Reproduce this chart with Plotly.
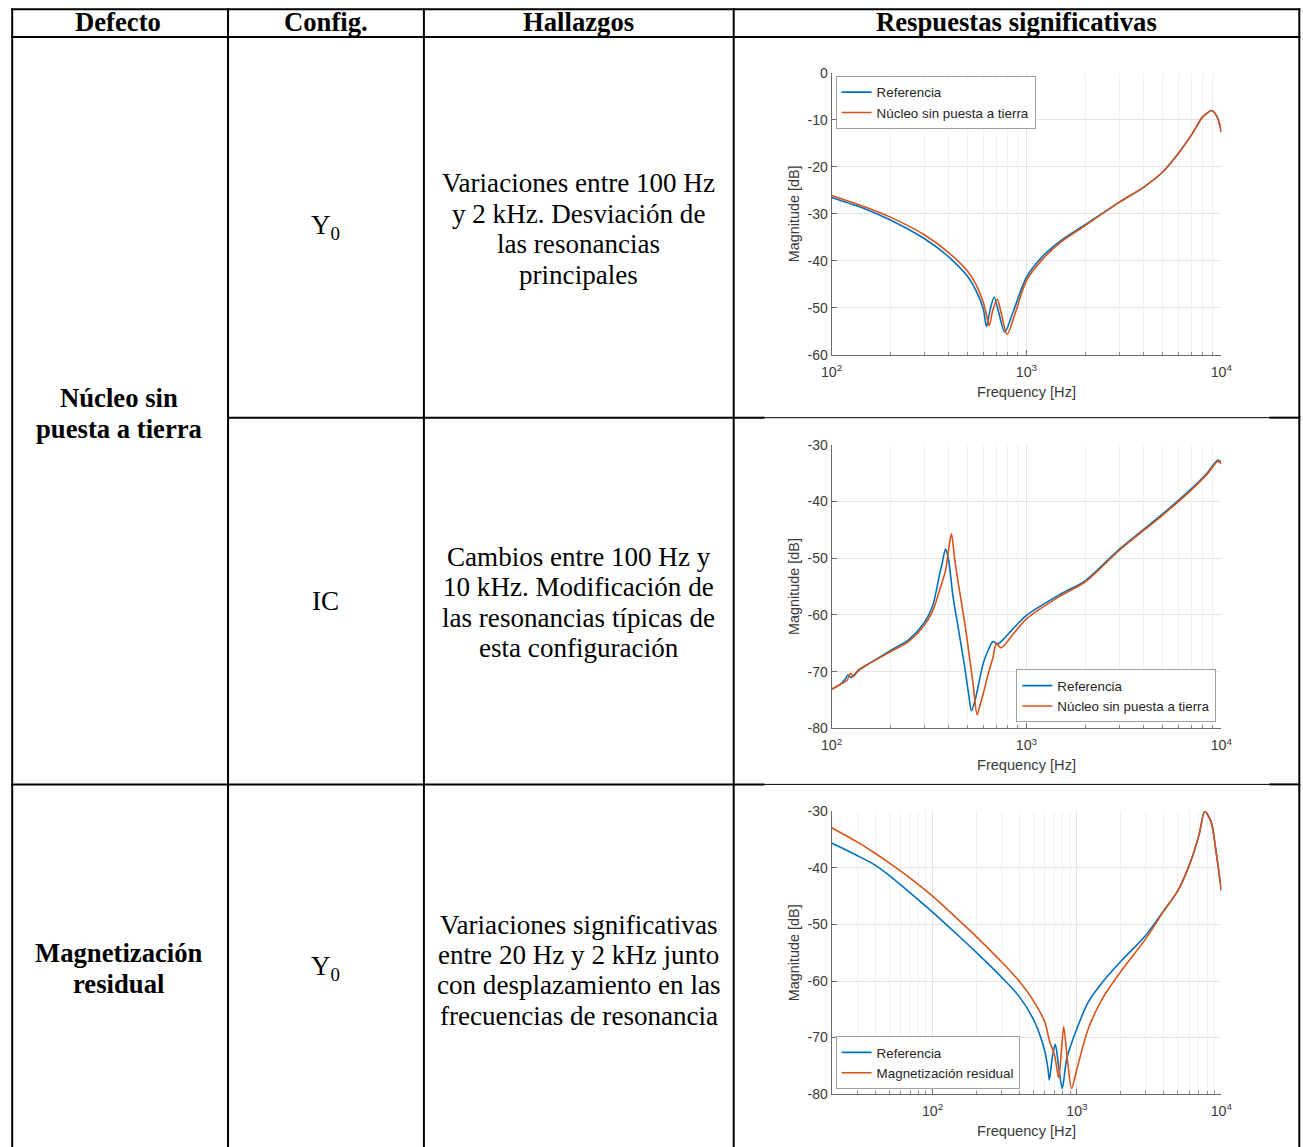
import math
import plotly.graph_objects as go

# ---------------- table text ----------------
header_labels = ["Defecto", "Config.", "Hallazgos", "Respuestas significativas"]
defect_labels = [["Núcleo sin", "puesta a tierra"], ["Magnetización", "residual"]]
config_labels = ["Y<sub>0</sub>", "IC", "Y<sub>0</sub>"]
findings_lines = [
    ["Variaciones entre 100 Hz", "y 2 kHz. Desviación de", "las resonancias", "principales"],
    ["Cambios entre 100 Hz y", "10 kHz. Modificación de", "las resonancias típicas de", "esta configuración"],
    ["Variaciones significativas", "entre 20 Hz y 2 kHz junto", "con desplazamiento en las", "frecuencias de resonancia"],
]
series_names = [
    ["Referencia", "Núcleo sin puesta a tierra"],
    ["Referencia", "Núcleo sin puesta a tierra"],
    ["Referencia", "Magnetización residual"],
]

# ---------------- chart 1 : Y0, core not grounded ----------------
f1_ref = [100, 150, 200, 300, 400, 500, 550, 600, 623, 650, 683, 720, 774, 850, 1000, 1200, 1500,
          2000, 3000, 4000, 5000, 6000, 7000, 8000, 8500, 8890, 9500, 10000]
m1_ref = [-26.5, -29.0, -31.3, -35.3, -39.2, -43.4, -46.3, -50.2, -54.0, -50.5, -47.7, -51.0, -55.2, -51.1,
          -43.5, -39.2, -35.7, -32.3, -27.5, -24.3, -21.1, -17.2, -13.3, -9.4, -8.5, -8.0, -9.3, -12.6]
f1_flt = [100, 150, 200, 300, 400, 500, 550, 600, 623, 644, 672, 708, 745, 795, 870, 1000, 1200, 1500,
          2000, 3000, 4000, 5000, 6000, 7000, 8000, 8500, 8890, 9500, 10000]
m1_flt = [-26.1, -28.6, -30.7, -34.5, -38.3, -42.3, -45.0, -48.8, -51.5, -53.8, -50.5, -48.2, -51.5, -55.7,
          -51.5, -44.2, -39.8, -36.0, -32.5, -27.5, -24.3, -21.1, -17.2, -13.3, -9.4, -8.5, -8.0, -9.3, -12.6]

# ---------------- chart 2 : IC, core not grounded ----------------
f2_ref = [100, 110, 118, 121, 126, 132, 140, 150, 200, 250, 300, 330, 360, 370, 384, 396, 420, 450, 480,
          505, 522, 545, 558, 600, 640, 673, 713, 760, 850, 1000, 1500, 2000, 3000, 5000, 7000, 8500, 9600, 10000]
m2_ref = [-73.1, -72.3, -71.2, -70.6, -71.0, -70.4, -69.6, -68.9, -66.3, -64.3, -61.3, -58.4, -52.5, -50.8,
          -48.4, -49.8, -56.8, -63.0, -68.8, -74.0, -76.9, -75.0, -73.5, -68.5, -66.0, -64.7, -65.1, -64.3,
          -62.5, -60.1, -56.3, -54.0, -48.4, -42.2, -37.8, -34.9, -32.7, -33.1]
f2_flt = [100, 110, 120, 125, 130, 136, 150, 200, 250, 300, 330, 360, 384, 400, 412, 429, 450, 480, 502,
          532, 558, 573, 600, 636, 673, 700, 740, 853, 1000, 1500, 2000, 3000, 5000, 7000, 8500, 9600, 10000]
m2_flt = [-73.1, -72.3, -71.5, -70.3, -70.8, -69.8, -68.9, -66.5, -64.6, -61.8, -59.3, -55.4, -52.2, -48.1,
          -45.7, -50.4, -55.1, -61.0, -65.7, -72.2, -77.6, -76.3, -73.9, -70.4, -67.5, -65.1, -65.8, -63.4,
          -60.7, -56.6, -54.2, -48.6, -42.4, -38.0, -35.1, -32.9, -33.4]

# ---------------- chart 3 : Y0, residual magnetisation ----------------
f3_ref = [20, 30, 40, 50, 70, 100, 150, 200, 300, 400, 500, 550, 600, 630, 644, 675, 708, 750, 792, 850,
          1000, 1200, 1500, 2000, 3000, 4000, 5000, 6000, 7000, 7670, 8500, 9200, 10000]
m3_ref = [-35.6, -37.8, -39.5, -41.3, -44.4, -47.8, -51.9, -54.9, -59.3, -62.8, -66.8, -69.3, -72.5, -75.5,
          -77.5, -73.5, -71.2, -75.5, -79.0, -73.7, -68.4, -63.7, -60.2, -56.6, -51.9, -47.5, -44.0, -39.5,
          -34.2, -30.0, -31.9, -37.2, -44.0]
f3_flt = [20, 30, 40, 50, 70, 100, 150, 200, 300, 400, 500, 600, 644, 700, 747, 780, 809, 860, 918, 1000,
          1200, 1500, 2000, 3000, 4000, 5000, 6000, 7000, 7670, 8500, 9200, 10000]
m3_flt = [-32.9, -35.4, -37.4, -39.1, -41.8, -45.0, -49.1, -52.1, -56.6, -60.1, -63.5, -67.3, -70.5, -73.1,
          -77.1, -72.5, -68.1, -74.0, -79.0, -75.5, -68.4, -63.1, -58.4, -52.5, -47.6, -44.0, -39.5, -34.2,
          -30.0, -31.9, -37.2, -44.0]

y_ranges = [[-60, 0], [-80, -30], [-80, -30]]
x_ranges = [[100, 10000], [100, 10000], [20, 10000]]
x_tickvals = [100, 1000, 10000]
x_ticktext = ["10<sup>2</sup>", "10<sup>3</sup>", "10<sup>4</sup>"]
x_minor_tickvals = [k * d for d in (10, 100, 1000) for k in range(2, 10)]

BLUE = "#0072BD"
ORANGE = "#D95319"
SERIF = "Liberation Serif, Times New Roman, serif"
SANS = "Liberation Sans, Arial, Helvetica, sans-serif"
AX_TXT = "#3a3a3a"

# The photographed page comes out scaled by ~0.985 and offset by ~(10.8, 7) px;
# layout positions below are given in target-picture pixels and converted.
SX, SY, OX, OY = 0.984, 0.987, 10.8, 7.0
S = (SX + SY) / 2
FW, FH = 1318, 1162


def X(px):
    return ((px - OX) / SX) / FW


def Y(py):
    return 1 - ((py - OY) / SY) / FH


def FS(size):
    return size / S


fig = go.Figure()

data = [(f1_ref, m1_ref, f1_flt, m1_flt), (f2_ref, m2_ref, f2_flt, m2_flt), (f3_ref, m3_ref, f3_flt, m3_flt)]
for i, (fr, mr, ff, mf) in enumerate(data):
    sfx = "" if i == 0 else str(i + 1)
    leg = "legend" if i == 0 else "legend" + str(i + 1)
    fig.add_trace(go.Scatter(x=fr, y=mr, name=series_names[i][0], mode="lines",
                             line=dict(color=BLUE, width=1.6, shape="spline", smoothing=0.8),
                             xaxis="x" + sfx, yaxis="y" + sfx, legend=leg))
    fig.add_trace(go.Scatter(x=ff, y=mf, name=series_names[i][1], mode="lines",
                             line=dict(color=ORANGE, width=1.6, shape="spline", smoothing=0.8),
                             xaxis="x" + sfx, yaxis="y" + sfx, legend=leg))

# plot-area boxes in target pixels (left, right, top, bottom)
boxes = [(832, 1222, 72, 354), (832, 1222, 444, 728), (832, 1222, 811, 1094)]
for i, (l, r, t, b) in enumerate(boxes):
    sfx = "" if i == 0 else str(i + 1)
    yr = y_ranges[i]
    yt = list(range(yr[0], yr[1] + 1, 10))
    lo = x_ranges[i][0]
    xa = dict(type="log", domain=[X(l), X(r)], anchor="y" + sfx,
              range=[math.log10(lo), math.log10(x_ranges[i][1])],
              tickmode="array", tickvals=x_tickvals, ticktext=x_ticktext,
              showgrid=True, gridcolor="#e4e4e4", gridwidth=1,
              showline=True, linecolor="#6a6a6a", linewidth=1,
              ticks="inside", ticklen=5, tickcolor="#6a6a6a",
              minor=dict(tickmode="array", tickvals=[v for v in x_minor_tickvals if v > lo],
                         showgrid=True, gridcolor="#f1f1f1", gridwidth=1,
                         ticks="inside", ticklen=3, tickcolor="#8a8a8a"),
              tickfont=dict(family=SANS, size=FS(14), color=AX_TXT),
              ticklabelstandoff=4,
              title=dict(text="Frequency [Hz]", font=dict(family=SANS, size=FS(14.4), color=AX_TXT), standoff=7),
              zeroline=False, fixedrange=True)
    ya = dict(domain=[Y(b), Y(t)], anchor="x" + sfx, range=yr,
              tickmode="array", tickvals=yt, ticktext=[str(v) for v in yt],
              showgrid=True, gridcolor="#e4e4e4", gridwidth=1,
              showline=True, linecolor="#6a6a6a", linewidth=1,
              ticks="inside", ticklen=5, tickcolor="#6a6a6a",
              tickfont=dict(family=SANS, size=FS(13.8), color=AX_TXT),
              title=dict(text="Magnitude [dB]", font=dict(family=SANS, size=FS(14.2), color=AX_TXT), standoff=4),
              zeroline=False, fixedrange=True)
    fig.update_layout(**{"xaxis" + sfx: xa, "yaxis" + sfx: ya})

legend_common = dict(bgcolor="white", bordercolor="#a0a0a0", borderwidth=1,
                     font=dict(family=SANS, size=FS(13.2), color="#262626"),
                     itemwidth=30, tracegroupgap=0, orientation="v")
fig.update_layout(
    legend=dict(x=X(836), y=Y(75), xanchor="left", yanchor="top", **legend_common),
    legend2=dict(x=X(1217), y=Y(722), xanchor="right", yanchor="bottom", **legend_common),
    legend3=dict(x=X(836), y=Y(1089), xanchor="left", yanchor="bottom", **legend_common),
)

# ---------------- table grid ----------------
shapes = []


def hline(y, x0, x1, w=2):
    shapes.append(dict(type="line", xref="paper", yref="paper", x0=X(x0), x1=X(x1), y0=Y(y), y1=Y(y),
                       line=dict(color="black", width=w)))


def vline(x, y0, y1, w=2):
    shapes.append(dict(type="line", xref="paper", yref="paper", x0=X(x), x1=X(x), y0=Y(y0), y1=Y(y1),
                       line=dict(color="black", width=w)))


LEFT_EDGE = OX + 1.2 * SX     # leftmost drawable position in the picture
TOP_EDGE = OY + 1.2 * SY
col_x = [LEFT_EDGE, 228, 424, 734, 1300]
for cx in col_x:
    vline(cx, TOP_EDGE - 1, 1160)
hline(TOP_EDGE, LEFT_EDGE - 1, 1301)
hline(36, LEFT_EDGE - 1, 1301)
hline(417, 228, 765)
hline(417, 765, 1270, 1)
hline(417, 1270, 1301)
hline(784, LEFT_EDGE - 1, 765)
hline(784, 765, 1270, 1)
hline(784, 1270, 1301)

annotations = []


def txt(text, x, y, bold=False, size=26.7):
    annotations.append(dict(text=("<b>%s</b>" % text) if bold else text, x=X(x), y=Y(y),
                            xref="paper", yref="paper", showarrow=False, xanchor="center", yanchor="middle",
                            font=dict(family=SERIF, size=FS(size), color="black")))


col_mid = [7, 228, 424, 734, 1300]
col_cx = [(col_mid[k] + col_mid[k + 1]) / 2 for k in range(4)]
for k, h in enumerate(header_labels):
    txt(h, col_cx[k], 21, bold=True, size=26.3)

defect_y = [[397, 428], [953, 984]]
for k, lines in enumerate(defect_labels):
    for j, line in enumerate(lines):
        txt(line, col_cx[0] + 1, defect_y[k][j], bold=True, size=26.3)

row_cy = [226, 600, 968]
for k, c in enumerate(config_labels):
    txt(c, col_cx[1], row_cy[k])

for k, lines in enumerate(findings_lines):
    n = len(lines)
    for j, line in enumerate(lines):
        txt(line, col_cx[2], row_cy[k] + (j - (n - 1) / 2) * 30.5 + 2)

fig.update_layout(
    width=FW, height=FH, margin=dict(l=0, r=0, t=0, b=0),
    paper_bgcolor="white", plot_bgcolor="white",
    shapes=shapes, annotations=annotations,
)

fig.write_html(
    "out.html",
    config={"displayModeBar": False},
    post_script="document.documentElement.style.margin='0px';document.body.style.margin='0px';",
)
